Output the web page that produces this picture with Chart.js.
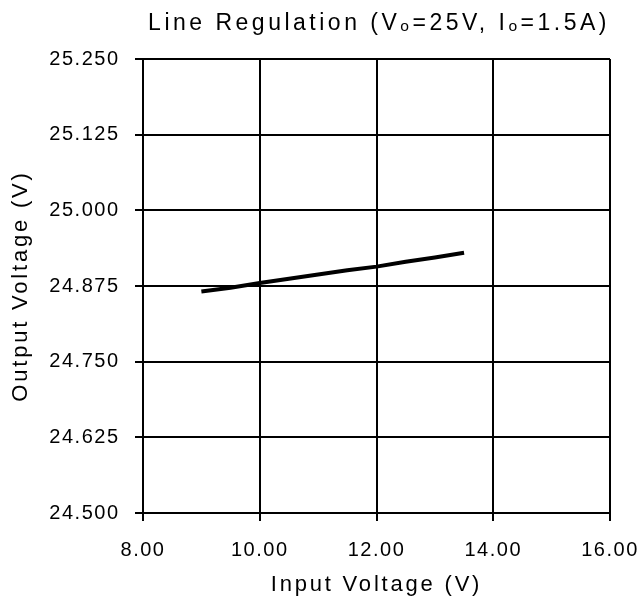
<!DOCTYPE html>
<html>
<head>
<meta charset="utf-8">
<script src="https://cdn.jsdelivr.net/npm/chart.js@4"></script>
<style>
html,body{margin:0;padding:0;background:#fff;}
#wrap{width:640px;height:603px;position:relative;}
</style>
</head>
<body>
<div id="wrap"><canvas id="c"></canvas></div>
<script>
const inputVoltage = [9.0, 9.5, 10.0, 10.5, 11.0, 11.5, 12.0, 12.5, 13.0, 13.5];
const outputVoltage = [24.866, 24.872, 24.880, 24.887, 24.894, 24.901, 24.907, 24.915, 24.922, 24.930];
const xTicks = [8, 10, 12, 14, 16];
const yTicks = [24.5, 24.625, 24.75, 24.875, 25.0, 25.125, 25.25];

const FONT = "'Liberation Sans', Arial, sans-serif";
const canvas = document.getElementById('c');
const ctx = canvas.getContext('2d');
// emulate the wide bitmap font of the original with letter spacing per font size
const spacingBySize = {20: '1.5px', 22: '2.8px', 23: '3.5px'};
const fontDesc = Object.getOwnPropertyDescriptor(CanvasRenderingContext2D.prototype, 'font');
Object.defineProperty(ctx, 'font', {
  configurable: true,
  get() { return fontDesc.get.call(this); },
  set(v) {
    fontDesc.set.call(this, v);
    const m = /(\d+(?:\.\d+)?)px/.exec(v);
    const sz = m ? Math.round(parseFloat(m[1])) : 0;
    if ('letterSpacing' in this) this.letterSpacing = spacingBySize[sz] || '0px';
  }
});

new Chart(ctx, {
  type: 'scatter',
  data: {
    datasets: [{
      data: inputVoltage.map((x, i) => ({x: x, y: outputVoltage[i]})),
      showLine: true,
      borderColor: '#000',
      borderWidth: 4,
      pointRadius: 0,
      tension: 0
    }]
  },
  options: {
    responsive: true,
    maintainAspectRatio: false,
    animation: false,
    devicePixelRatio: 1,
    layout: {padding: {left: 0, right: 30, top: 0, bottom: 0}},
    plugins: {
      legend: {display: false},
      tooltip: {enabled: false},
      title: {
        display: true,
        text: 'Line Regulation (Vₒ=25V, Iₒ=1.5A)',
        color: '#000',
        font: {family: FONT, size: 23, weight: 'normal'},
        padding: {top: 10, bottom: 21.4},
        align: 'end'
      }
    },
    scales: {
      x: {
        type: 'linear',
        min: 8, max: 16,
        afterBuildTicks: s => { s.ticks = xTicks.map(v => ({value: v})); },
        afterFit: s => { s.height = 90; s.paddingLeft = 0; s.paddingRight = 0; },
        grid: {color: '#000', lineWidth: 2, drawTicks: true, tickLength: 8, tickColor: '#000'},
        border: {color: '#000', width: 2},
        ticks: {color: '#000', font: {family: FONT, size: 20}, padding: 17,
          callback: v => Number(v).toFixed(2)},
        title: {display: true, text: 'Input Voltage (V)', color: '#000',
          font: {family: FONT, size: 22}, padding: {top: 4, bottom: 5}}
      },
      y: {
        type: 'linear',
        min: 24.5, max: 25.25,
        afterBuildTicks: s => { s.ticks = yTicks.map(v => ({value: v})); },
        afterFit: s => { s.width = 143; },
        grid: {color: '#000', lineWidth: 2, drawTicks: true, tickLength: 8, tickColor: '#000'},
        border: {color: '#000', width: 2},
        ticks: {color: '#000', font: {family: FONT, size: 20}, padding: 15.5,
          callback: v => Number(v).toFixed(3)},
        title: {display: true, text: 'Output Voltage (V)', color: '#000',
          font: {family: FONT, size: 22}, padding: {top: 8, bottom: 0}}
      }
    }
  }
});
</script>
</body>
</html>
